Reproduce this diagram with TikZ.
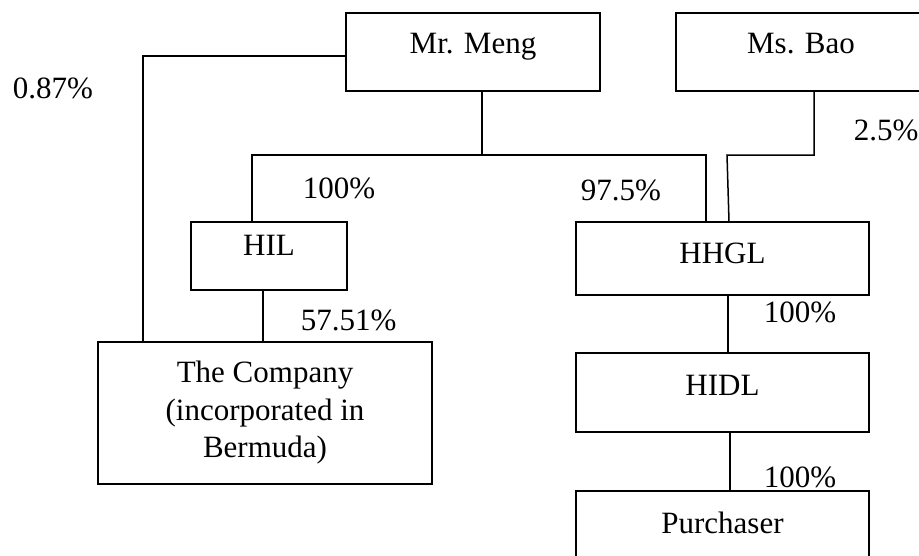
\documentclass[tikz,border=0pt]{standalone}
\usepackage{fontspec}
\setmainfont{Liberation Serif}
\usetikzlibrary{positioning,calc}

\begin{document}
\begin{tikzpicture}[x=1pt,y=-1pt,line width=1.5pt,
 font=\fontsize{31}{37.5}\selectfont,
 box/.style={draw,rectangle,inner sep=0pt},
 lift/.style={text height=21pt,text depth=#1},
 pct/.style={anchor=base west,inner sep=0pt}]
\useasboundingbox (0,0) rectangle (919,555);
\clip (0,0) rectangle (919,555);
\node[box,lift=19pt,minimum width=254pt,minimum height=78pt] (meng) at (473,52) {Mr. Meng};
\node[box,lift=19pt,minimum width=250pt,minimum height=78pt] (bao) at (801,52) {Ms. Bao};
\node[box,lift=23pt,minimum width=156pt,minimum height=68pt] (hil) at (269,256) {HIL};
\node[box,lift=12pt,minimum width=293pt,minimum height=73pt] (hhgl) at (722.5,258.5) {HHGL};
\node[box,align=center,minimum width=334pt,minimum height=142pt] (co) at (265,413) {The Company\\(incorporated in\\Bermuda)};
\node[box,lift=16pt,minimum width=293pt,minimum height=79pt] (hidl) at (722.5,392.5) {HIDL};
\node[box,lift=17pt,minimum width=293pt,minimum height=80pt] (buyer) at (722.5,531) {Purchaser};
% shareholdings
\node[pct] (p1) at (12,98) {0.87\%};
\node[pct] (p2) at (302,198) {100\%};
\node[pct] (p3) at (580,200) {97.5\%};
\node[pct] (p4) at (853,140) {2.5\%};
\node[pct] (p5) at (300,330) {57.51\%};
\node[pct] (p6) at (763,322) {100\%};
\node[pct] (p7) at (763,487) {100\%};
\coordinate (mj) at (482,155);
\coordinate (bj) at (814,155);
\draw (meng.west |- 0,56) -- (143,56) -- (143,0 |- co.north);
\draw (mj |- meng.south) -- (mj);
\draw (252,0 |- hil.north) -- (252,155) -- (706,155) -- (706,0 |- hhgl.north);
\draw (bj |- bao.south) -- (bj) -- (727,155) -- (729,0 |- hhgl.north);
\draw (263,0 |- hil.south) -- (263,0 |- co.north);
\draw (728,0 |- hhgl.south) -- (728,0 |- hidl.north);
\draw (730,0 |- hidl.south) -- (730,0 |- buyer.north);
\end{tikzpicture}
\end{document}
